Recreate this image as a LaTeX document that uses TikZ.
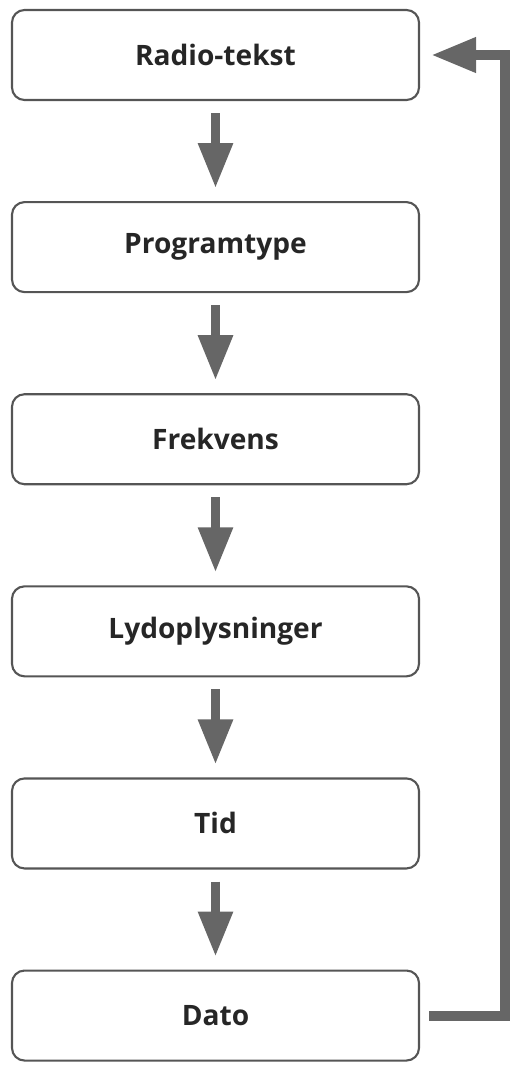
\documentclass[tikz,border=0pt]{standalone}
\usepackage{fontspec}
\setmainfont{Open Sans}
\usepackage{xcolor}
\usepackage{tikz}
\usetikzlibrary{shapes, arrows.meta, positioning}
\definecolor{boxline}{HTML}{555555}
\definecolor{arrowgray}{HTML}{666666}

\begin{document}
\begin{tikzpicture}[
        stepbox/.style={draw=boxline, line width=1.2pt, rectangle, rounded corners=0.25cm,
            minimum width=8.14cm, minimum height=1.8cm,
            font=\fontsize{16}{18}\selectfont\bfseries, text=black!85},
        flow/.style={draw=arrowgray, line width=0.18cm, -{Triangle[length=0.9cm, width=0.66cm]},
            shorten <=0.24cm, shorten >=0.26cm},
        feedback/.style={draw=arrowgray, line width=0.2cm, -{Triangle[length=0.9cm, width=0.66cm]},
            shorten <=0.18cm, shorten >=0.22cm},
        node distance=2.0cm
    ]
    \useasboundingbox (0,0) rectangle (10.3,-21.3);

    \node[stepbox] (radio) at (4.31,-1.1) {Radio-tekst};
    \node[stepbox, below=of radio] (programtype) {Programtype};
    \node[stepbox, below=of programtype] (frekvens) {Frekvens};
    \node[stepbox, below=of frekvens] (lyd) {Lydoplysninger};
    \node[stepbox, below=of lyd] (tid) {Tid};
    \node[stepbox, below=of tid] (dato) {Dato};

    \draw[flow] (radio) -- (programtype);
    \draw[flow] (programtype) -- (frekvens);
    \draw[flow] (frekvens) -- (lyd);
    \draw[flow] (lyd) -- (tid);
    \draw[flow] (tid) -- (dato);

    % tilbake til toppen
    \coordinate (loopx) at (10.1,0);
    \draw[feedback] (dato.east) -- (dato.east -| loopx) |- (radio.east);
\end{tikzpicture}
\end{document}
